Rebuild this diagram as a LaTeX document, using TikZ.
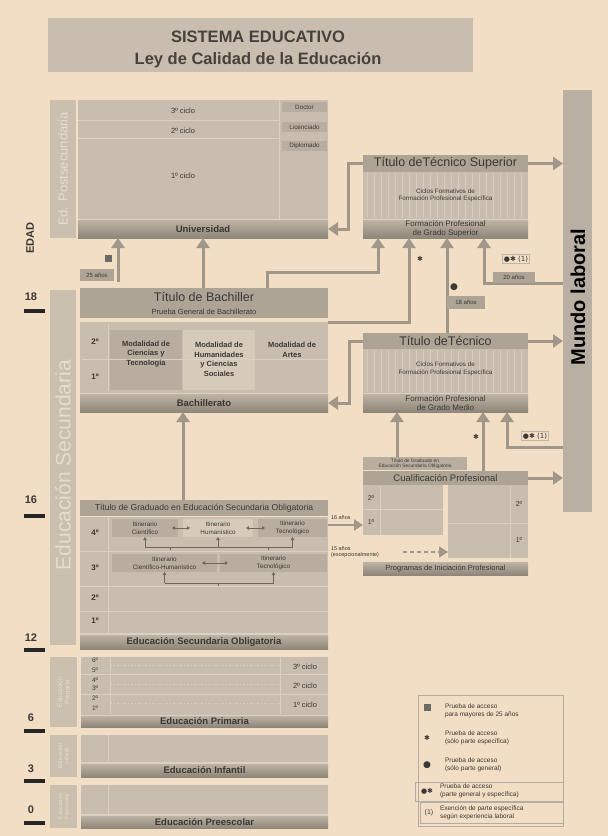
\documentclass[tikz,border=0pt]{standalone}
\usepackage{fontspec}
\setmainfont{Liberation Sans}
\newfontfamily\dvs{DejaVu Sans}
\usetikzlibrary{arrows.meta}
\definecolor{bg}{HTML}{F2DEC4}
\definecolor{boxc}{HTML}{C8BDAE}
\definecolor{barT}{HTML}{BDB3A4}
\definecolor{barB}{HTML}{8E8679}
\definecolor{titc}{HTML}{ADA495}
\definecolor{sidec}{HTML}{CBC0B0}
\definecolor{sidet}{HTML}{E8DDCC}
\definecolor{linec}{HTML}{A0978A}
\definecolor{txt}{HTML}{3A3835}
\definecolor{titt}{HTML}{45423E}
\definecolor{darkb}{HTML}{B8AD9E}
\definecolor{lightb}{HTML}{D6CBBB}
\definecolor{sepc}{HTML}{DCD1C1}
\definecolor{mundoc}{HTML}{B9B0A3}
\definecolor{brkc}{HTML}{6E675E}
\newcommand{\fsz}[2]{\fontsize{#1pt}{#2pt}\selectfont}
\newcommand{\mkbox}[6]{\node[#1, minimum width={(#5-#3)*1pt}, minimum height={(#6-#4)*1pt}] (#2) at ({(#3+#5)/2},{(#4+#6)/2}) {};}
\tikzset{
  every node/.style={inner sep=0pt, outer sep=0pt, text=txt},
  gbox/.style={fill=boxc},
  bar/.style={top color=barT, bottom color=barB},
  titbar/.style={fill=titc},
  side/.style={fill=sidec},
  conn/.style={draw=linec, line width=3pt},
  arr/.style={conn, -{Triangle[length=10pt,width=13pt]}},
  sep/.style={draw=sepc, line width=0.8pt},
  stripe/.style={draw=sepc!80!boxc, line width=0.7pt},
  lblS/.style={font=\fsz{7.5}{8.5}},
  lblT/.style={font=\fsz{6.3}{7.5}},
  barlbl/.style={font=\bfseries\fsz{9.5}{10}},
  modl/.style={font=\bfseries\fsz{7.5}{9.5}, align=center},
  brk/.style={draw=brkc, line width=0.7pt},
  brka/.style={brk, -{Triangle[length=3pt,width=3.5pt]}},
  dbl/.style={brk, {Triangle[length=3pt,width=3.5pt]}-{Triangle[length=3pt,width=3.5pt]}},
  agebox/.style={fill=titc, font=\fsz{6}{6}},
  mark/.style={},
  astm/.style={font=\dvs\fsz{7}{7}},
  dotm/.style={font=\dvs\fsz{9}{9}},
  legt/.style={font=\fsz{6.5}{8}, align=left, anchor=west},
  sidelbl/.style={rotate=90, text=sidet},
}
\begin{document}
\begin{tikzpicture}[x=1pt,y=-1pt]
\fill[bg] (0,0) rectangle (608,836);
\useasboundingbox (0,0) rectangle (608,836);

% ---------- title
\mkbox{fill=boxc}{title}{48}{18}{473}{72}
\node[font=\bfseries\fsz{16.5}{18}, text=titt] (tA) at (258,37) {SISTEMA EDUCATIVO};
\node[font=\bfseries\fsz{16.5}{18}, text=titt] (tB) at (258,60) {Ley de Calidad de la Educación};

% ---------- ages
\node[rotate=90, font=\bfseries\fsz{11}{11}] (edad) at (30,238) {EDAD};
\foreach \n/\ly/\by in {18/297/311,16/500/516,12/638/650,6/718/731,3/769/781,0/810/823}{
  \node[font=\bfseries\fsz{11}{11}] (age\n) at (31,\ly) {\n};
  \fill[black!85] (24,\by-1.8) rectangle (45,\by+1.8);
}

% ---------- Mundo laboral
\mkbox{fill=mundoc}{mundo}{563}{90}{592}{512}
\node[rotate=90, font=\bfseries\fsz{20}{20}, text=black] (mundot) at (578,297) {Mundo laboral};

% ---------- Universidad
\fill[sepc] (78,100) rectangle (328,238);
\mkbox{side}{postside}{50}{100}{76}{238}
\node[sidelbl, font=\fsz{13}{13}] at (postside.center) {Ed. Postsecundaria};
\mkbox{gbox}{uni}{78}{100}{328}{218.5}
\draw[sep] (78,120.5) -- (279,120.5);
\draw[sep] (78,138.5) -- (279,138.5);
\draw[sep] (279,100) -- (279,218.5);
\node[lblS] (c3) at (183,111) {3º ciclo};
\node[lblS] (c2) at (183,131) {2º ciclo};
\node[lblS] (c1) at (183,176) {1º ciclo};
\mkbox{fill=darkb}{doc}{282}{102}{327}{112}
\node[lblT] at (doc) {Doctor};
\mkbox{fill=darkb}{lic}{282}{122}{327}{132}
\node[lblT] at (lic) {Licenciado};
\mkbox{fill=darkb}{dip}{282}{141}{327}{151}
\node[lblT] at (dip) {Diplomado};
\mkbox{bar}{unibar}{78}{220}{328}{238}
\node[barlbl] at (unibar) {Universidad};

% ---------- Tecnico Superior
\fill[sepc] (363,155) rectangle (528,238);
\mkbox{titbar}{tstit}{363}{155}{528}{172}
\node[font=\fsz{12.5}{13}] at (tstit) {Título deTécnico Superior};
\mkbox{gbox}{tsmid}{363}{172}{528}{218.5}
\foreach \x in {367,374,...,526} \draw[stripe] (\x,173) -- (\x,218);
\node[lblT, align=center] at (445.5,195.5) {Ciclos Formativos de\\Formación Profesional Específica};
\mkbox{bar}{tsbar}{363}{220}{528}{238}
\node[font=\fsz{8}{8.8}, align=center] at (tsbar) {Formación Profesional\\de Grado Superior};

% ---------- Bachillerato
\mkbox{side}{secside}{50}{290}{76}{645}
\node[sidelbl, font=\fsz{21}{21}] at (63,465) {Educación Secundaria};
\mkbox{titbar}{bachtit}{80}{288}{328}{318}
\node[font=\fsz{12.5}{13}] at (204,296.5) {Título de Bachiller};
\node[font=\fsz{7.5}{8}] at (204,311.5) {Prueba General de Bachillerato};
\fill[sepc] (80,322) rectangle (328,412);
\mkbox{gbox}{bach}{80}{322}{328}{392.5}
\mkbox{fill=darkb}{mct}{110}{330}{182}{390}
\mkbox{fill=lightb}{mhc}{183}{330}{255}{390}
\draw[sep] (82,359.5) -- (328,359.5);
\draw[sep] (108.5,324) -- (108.5,391);
\node[font=\bfseries\fsz{8}{8}] at (95,342) {2º};
\node[font=\bfseries\fsz{8}{8}] at (95,377) {1º};
\node[modl] at (146,354) {Modalidad de\\Ciencias y\\Tecnología};
\node[modl] at (219,359.5) {Modalidad de\\Humanidades\\y Ciencias\\Sociales};
\node[modl] at (292,350) {Modalidad de\\Artes};
\mkbox{bar}{bachbar}{80}{394}{328}{412}
\node[barlbl] at (bachbar) {Bachillerato};

% ---------- Tecnico
\fill[sepc] (363,333) rectangle (528,412);
\mkbox{titbar}{tectit}{363}{333}{528}{349}
\node[font=\fsz{12.5}{13}] at (tectit) {Título deTécnico};
\mkbox{gbox}{tecmid}{363}{349}{528}{392.5}
\foreach \x in {367,374,...,526} \draw[stripe] (\x,350) -- (\x,392);
\node[lblT, align=center] at (445.5,369) {Ciclos Formativos de\\Formación Profesional Específica};
\mkbox{bar}{tecbar}{363}{394}{528}{412}
\node[font=\fsz{8}{8.8}, align=center] at (tecbar) {Formación Profesional\\de Grado Medio};

% ---------- ESO
\mkbox{titbar}{esotit}{80}{500}{328}{516}
\node[font=\fsz{8.6}{9}] at (esotit) {Título de Graduado en Educación Secundaria Obligatoria};
\fill[sepc] (80,517) rectangle (328,649);
\mkbox{gbox}{eso}{80}{517}{328}{633}
\draw[sep] (80,551.5) -- (328,551.5);
\draw[sep] (80,586) -- (328,586);
\draw[sep] (80,611) -- (328,611);
\draw[sep] (108.5,517) -- (108.5,633);
\node[font=\bfseries\fsz{8}{8}] at (95,533) {4º};
\node[font=\bfseries\fsz{8}{8}] at (95,568) {3º};
\node[font=\bfseries\fsz{8}{8}] at (95,598) {2º};
\node[font=\bfseries\fsz{8}{8}] at (95,621) {1º};
\mkbox{fill=darkb}{ic}{112}{519}{178}{537}
\mkbox{fill=lightb}{ih}{183}{519}{253}{537}
\mkbox{fill=darkb}{it}{258}{519}{327}{537}
\node[lblT, align=center] at (ic) {Itinerario\\Científico};
\node[lblT, align=center] at (ih) {Itinerario\\Humanístico};
\node[lblT, align=center] at (it) {Itinerario\\Tecnológico};
\draw[dbl] (172,528) -- (190,528);
\draw[dbl] (246,528) -- (265,528);
\coordinate (k547) at (0,547);
\draw[brk] (ic.south |- k547) -- (it.south |- k547);
\draw[brka] (ic.south |- k547) -- (ic.south);
\draw[brka] (ih.south |- k547) -- (ih.south);
\draw[brka] (it.south |- k547) -- (it.south);
\draw[brk] (170,547) -- (170,549.5);
\draw[brk] (268,547) -- (268,549.5);
\mkbox{fill=darkb}{ich}{112}{554}{217}{572}
\mkbox{fill=darkb}{it3}{220}{554}{327}{572}
\node[lblT, align=center] at (ich) {Itinerario\\Científico-Humanístico};
\node[lblT, align=center] at (it3) {Itinerario\\Tecnológico};
\draw[dbl] (202,563) -- (228,563);
\coordinate (k583) at (0,583);
\draw[brk] (ich.south |- k583) -- (it3.south |- k583);
\draw[brka] (ich.south |- k583) -- (ich.south);
\draw[brka] (it3.south |- k583) -- (it3.south);
\draw[brk] (218,583) -- (218,585.5);
\mkbox{bar}{esobar}{80}{635}{328}{649}
\node[barlbl] at (esobar) {Educación Secundaria Obligatoria};

% ---------- Cualificacion Profesional / PIP
\mkbox{fill=darkb}{gtit}{363}{457}{467}{470}
\node[font=\fsz{4.8}{5.4}, align=center] at (gtit) {Título de Graduado en\\Educación Secundaria Obligatoria};
\mkbox{titbar}{cualtit}{363}{471}{528}{485}
\node[font=\fsz{9.5}{10}] at (cualtit) {Cualificación Profesional};
\mkbox{gbox}{gl}{363}{485}{443}{535}
\draw[sep] (380.5,486) -- (380.5,535);
\draw[sep] (363,509.5) -- (443,509.5);
\node[font=\fsz{7}{7}] at (371,498) {2º};
\node[font=\fsz{7}{7}] at (371,522) {1º};
\mkbox{gbox}{gr}{448}{485}{528}{558}
\draw[sep] (510.5,486) -- (510.5,558);
\draw[sep] (448,523) -- (528,523);
\node[font=\fsz{7}{7}] at (519,504) {2º};
\node[font=\fsz{7}{7}] at (519,540) {1º};
\mkbox{bar}{pip}{363}{562}{528}{575}
\node[font=\fsz{7.5}{8}] at (pip) {Programas de Iniciación Profesional};

% ---------- Primaria
\mkbox{side}{primside}{50}{657}{77}{727}
\node[sidelbl, font=\fsz{6.5}{7.5}, align=center] at (primside) {Educación\\Primaria};
\fill[sepc] (81,657) rectangle (328,727);
\mkbox{gbox}{prim}{81}{657}{328}{714.5}
\draw[sep] (110,657) -- (110,714);
\draw[sep] (280,657) -- (280,714);
\draw[sep] (81,674.5) -- (328,674.5);
\draw[sep] (81,694) -- (328,694);
\foreach \yy in {665,684,703} \draw[sepc, line width=0.7pt, dash pattern=on 1.5pt off 2pt] (110,\yy) -- (280,\yy);
\foreach \g/\yy in {6/660,5/670,4/680,3/688.5,2/698,1/708} \node[font=\fsz{6.5}{6.5}] at (95,\yy) {\g º};
\node[lblS] at (305,667) {3º ciclo};
\node[lblS] at (305,686) {2º ciclo};
\node[lblS] at (305,705) {1º ciclo};
\mkbox{bar}{primbar}{81}{716}{328}{727}
\node[barlbl] at (primbar) {Educación Primaria};

% ---------- Infantil
\mkbox{side}{infside}{50}{735}{77}{777}
\node[sidelbl, font=\fsz{5.5}{6.5}, align=center] at (infside) {Educación\\Infantil};
\fill[sepc] (81,735) rectangle (328,777);
\mkbox{gbox}{inf}{81}{735}{328}{762}
\draw[sep] (108,735) -- (108,762);
\mkbox{bar}{infbar}{81}{764}{328}{777}
\node[barlbl] at (infbar) {Educación Infantil};

% ---------- Preescolar
\mkbox{side}{preside}{50}{785}{77}{828}
\node[sidelbl, font=\fsz{5.5}{6.5}, align=center] at (preside) {Educación\\Preescolar};
\fill[sepc] (81,785) rectangle (328,828);
\mkbox{gbox}{pre}{81}{785}{328}{814}
\draw[sep] (108,785) -- (108,814);
\mkbox{bar}{prebar}{81}{816}{328}{828}
\node[barlbl] at (prebar) {Educación Preescolar};

% ---------- connectors
\coordinate (c25) at (118,282);
\draw[arr] (c25) -- (c25 |- unibar.south);
\draw[arr] (bachtit.north -| unibar.south) -- (unibar.south);
\draw[arr] (tstit.west) -- ++(-15,0) |- (unibar.east);
\draw[arr] (tstit.east) -- (tstit.east -| mundo.west);
\coordinate (ts1) at (378,238);
\coordinate (ts2) at (409,238);
\coordinate (ts3) at (447,238);
\coordinate (ts4) at (484,238);
\coordinate (b267) at (267,288);
\coordinate (k272) at (0,272);
\draw[arr] (b267) |- (k272 -| ts1) -- (ts1);
\draw[arr] (bach.north east) -| (ts2);
\draw[arr] (tectit.north -| ts3) -- (ts3);
\coordinate (m283) at (563,283);
\draw[arr] (m283) -| (ts4);
\draw[arr] (tectit.west) -- ++(-14,0) |- (bachbar.east);
\draw[arr] (tectit.east) -- (tectit.east -| mundo.west);
\coordinate (tc1) at (397,412);
\coordinate (tc2) at (483,412);
\coordinate (tc3) at (507,412);
\draw[arr] (gtit.north -| tc1) -- (tc1);
\draw[arr] (cualtit.north -| tc2) -- (tc2);
\coordinate (m447) at (563,447);
\draw[arr] (m447) -| (tc3);
\coordinate (bb) at (183,412);
\draw[arr] (esotit.north -| bb) -- (bb);
\draw[arr] (cualtit.east) -- (cualtit.east -| mundo.west);
\coordinate (e16) at (328,525);
\draw[conn, line width=2pt, -{Triangle[length=9pt,width=11pt]}] (e16) -- (e16 -| gl.west);
\coordinate (e15) at (403,552);
\draw[draw=linec, line width=1.6pt, dash pattern=on 4pt off 3pt, -{Triangle[length=9pt,width=11pt]}] (e15) -- (e15 -| gr.west);

% ---------- labels on connectors
\node[agebox, minimum width=34, minimum height=12] (a25) at (97,275) {25 años};
\node[fill=txt!75, minimum size=7] (sq25) at (108,258) {};
\node[astm] (ast1) at (420,259) {✱};
\node[dotm] (dot1) at (454,287) {●};
\node[agebox, minimum width=38, minimum height=13] (a18) at (466,302.5) {18 años};
\node[font=\dvs\fsz{7}{7}, draw=linec!70, line width=0.5pt, inner sep=1.5pt] (m1) at (516,259) {●✱ (1)};
\node[agebox, minimum width=42, minimum height=11] (a20) at (514,277) {20 años};
\node[astm] (ast2) at (476,437) {✱};
\node[font=\dvs\fsz{7}{7}, draw=linec!70, line width=0.5pt, inner sep=1.5pt] (m2) at (535,436) {●✱ (1)};
\node[font=\fsz{5.5}{6}, anchor=west] (l16) at (331,518) {16 años};
\node[font=\fsz{5.5}{6}, anchor=west, align=left] (l15) at (331,552) {15 años\\(excepcionalmente)};

% ---------- legend
\node[draw=linec!80, line width=0.6pt, minimum width=145, minimum height=131] (leg) at (490.5,760.5) {};
\node[draw=linec!80, line width=0.6pt, minimum width=148, minimum height=19] (leg4) at (489,791.5) {};
\node[draw=linec!80, line width=0.6pt, minimum width=143, minimum height=21] (leg5) at (491.5,812.5) {};
\node[fill=txt!75, minimum size=7] (lsq) at (427,707) {};
\node[legt] at (445,711) {Prueba de acceso\\para mayores de 25 años};
\node[astm] (last) at (427,738) {✱};
\node[legt] at (445,738) {Prueba de acceso\\(sólo parte específica)};
\node[dotm] (ldot) at (427,765) {●};
\node[legt] at (445,765) {Prueba de acceso\\(sólo parte general)};
\node[font=\dvs\fsz{7}{7}] (lboth) at (427,791) {●✱};
\node[legt] at (440,790.5) {Prueba de acceso\\(parte general y específica)};
\node[font=\fsz{7}{7}] (lone) at (429,812.5) {(1)};
\node[legt] at (440,812.5) {Exención de parte específica\\según experiencia laboral};
\end{tikzpicture}
\end{document}
